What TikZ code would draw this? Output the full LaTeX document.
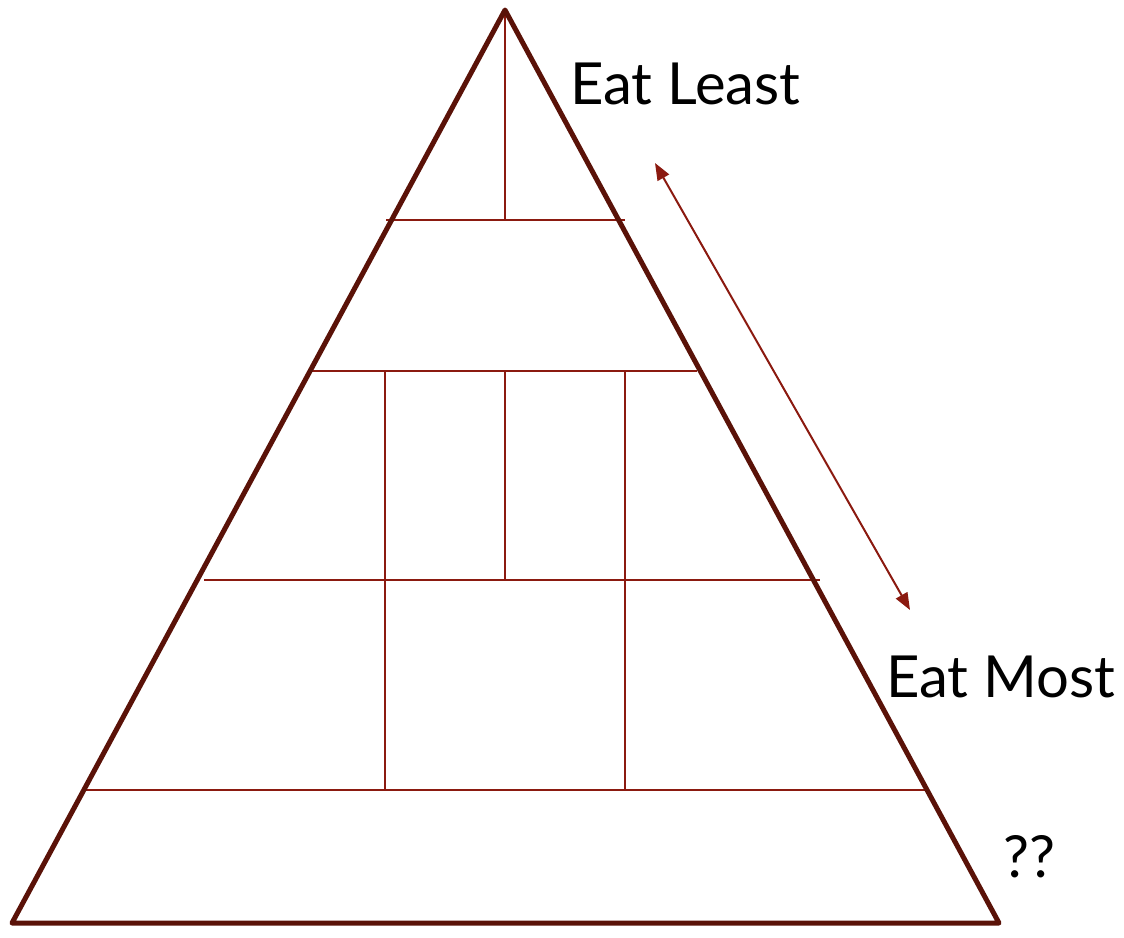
\documentclass[tikz,border=0pt]{standalone}
\usepackage{fontspec}
\setmainfont{Lato}
\usetikzlibrary{arrows.meta}
\definecolor{outline}{HTML}{5A1208}
\definecolor{inner}{HTML}{8B1A10}
\begin{document}
\begin{tikzpicture}[x=1pt,y=-1pt,
  outer/.style={draw=outline,line width=5pt,line join=round},
  div/.style={draw=inner,line width=2.5pt},
  lbl/.style={anchor=base west,inner sep=0pt,font=\fontsize{58}{58}\selectfont},
  dbl/.style={draw=inner,line width=2pt,{Triangle[length=17pt,width=13pt]}-{Triangle[length=17pt,width=13pt]}}]
\useasboundingbox (0,0) rectangle (1124,937);
\coordinate (apex) at (505,10);
\coordinate (bl) at (12,923);
\coordinate (br) at (999,923);
% horizontal dividers
\coordinate (h1l) at (386,220); \coordinate (h1r) at (625,220);
\coordinate (h2l) at (311,371); \coordinate (h2r) at (697,371);
\coordinate (h3l) at (204,580); \coordinate (h3r) at (820,580);
\coordinate (h4l) at (85,790);  \coordinate (h4r) at (925,790);
\draw[div] (h1l) -- (h1r);
\draw[div] (h2l) -- (h2r);
\draw[div] (h3l) -- (h3r);
\draw[div] (h4l) -- (h4r);
% vertical dividers
\coordinate (v0t) at (505,10);  \coordinate (v0b) at (505,220);
\coordinate (v1t) at (385,371); \coordinate (v1b) at (385,790);
\coordinate (v2t) at (505,371); \coordinate (v2b) at (505,580);
\coordinate (v3t) at (625,371); \coordinate (v3b) at (625,790);
\draw[div] (v0t) -- (v0b);
\draw[div] (v1t) -- (v1b);
\draw[div] (v2t) -- (v2b);
\draw[div] (v3t) -- (v3b);
% outline
\draw[outer] (apex) -- (br) -- (bl) -- cycle;
% arrow
\coordinate (a1) at (655,163);
\coordinate (a2) at (910,610);
\draw[dbl] (a1) -- (a2);
% labels
\node[lbl] (least) at (570,104) {Eat Least};
\node[lbl] (most) at (886,697) {Eat Most};
\node[lbl] (qq) at (1003,877) {??};
\end{tikzpicture}
\end{document}
